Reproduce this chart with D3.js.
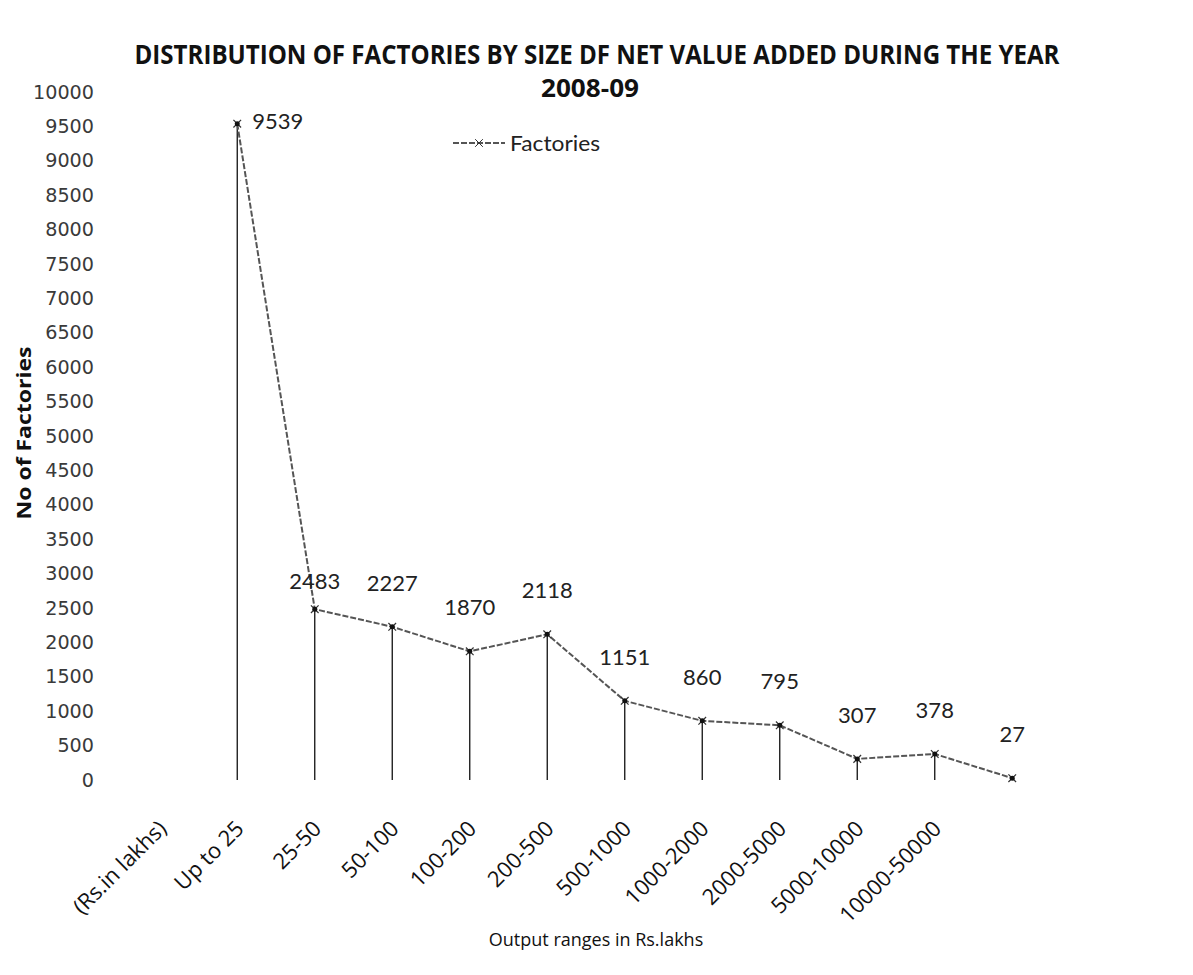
<!DOCTYPE html>
<html><head><meta charset="utf-8">
<script src="https://cdn.jsdelivr.net/npm/d3@7"></script>
<style>body{margin:0;background:#fff}svg{display:block}</style>
</head><body>
<script>
const categories = ["(Rs.in lakhs)","Up to 25","25-50","50-100","100-200","200-500","500-1000","1000-2000","2000-5000","5000-10000","10000-50000",""];
const factories = [null,9539,2483,2227,1870,2118,1151,860,795,307,378,27];
const yTicks = d3.range(0,10001,500);
const titleLines = ["DISTRIBUTION OF FACTORIES BY SIZE DF NET VALUE ADDED  DURING THE YEAR","2008-09"];
const seriesName = "Factories";
const xTitle = "Output ranges in Rs.lakhs";
const yTitle = "No of Factories";

const W=1193,H=975;
const m={left:121,right:142,top:92,bottom:195};
const svg=d3.select("body").append("svg").attr("width",W).attr("height",H);
const x=d3.scaleBand().domain(d3.range(categories.length)).range([m.left,W-m.right]);
const y=d3.scaleLinear().domain([0,10000]).range([H-m.bottom,m.top]);
const cx=i=>x(i)+x.bandwidth()/2;

// title
svg.append("text").attr("x",597).attr("y",64).attr("text-anchor","middle")
  .attr("font-family","'Liberation Sans Narrow','Open Sans',sans-serif").attr("font-weight","bold")
  .attr("font-size",26).attr("fill","#111").attr("textLength",925).attr("lengthAdjust","spacingAndGlyphs")
  .text(titleLines[0]);
svg.append("text").attr("x",590).attr("y",97).attr("text-anchor","middle")
  .attr("font-family","'Liberation Sans Narrow','Open Sans',sans-serif").attr("font-weight","bold")
  .attr("font-size",25).attr("fill","#111").attr("textLength",98).attr("lengthAdjust","spacingAndGlyphs")
  .text(titleLines[1]);

// y axis
const ya=svg.append("g").attr("transform",`translate(${m.left},0)`)
  .call(d3.axisLeft(y).tickValues(yTicks).tickSize(0).tickPadding(27).tickFormat(d3.format("d")));
ya.select(".domain").remove();
ya.selectAll("text").attr("font-family","'DejaVu Sans',sans-serif")
  .attr("font-size",19).attr("fill","#3a3a3a").attr("textLength",function(){return this.textContent.length*12.2;})
  .attr("lengthAdjust","spacingAndGlyphs");

// x axis labels
const xa=svg.append("g").attr("transform",`translate(0,${H-m.bottom})`)
  .call(d3.axisBottom(x).tickSize(0).tickFormat(i=>categories[i]));
xa.select(".domain").remove();
xa.selectAll("text").attr("font-family","'Open Sans',sans-serif").attr("font-size",22).attr("fill","#111")
  .attr("text-anchor","end").attr("dy",null).attr("y",0)
  .attr("transform","translate(8,50) rotate(-45)");

// axis titles
svg.append("text").attr("x",596).attr("y",946).attr("text-anchor","middle")
  .attr("font-family","'Open Sans',sans-serif").attr("font-size",18).attr("fill","#111").text(xTitle);
svg.append("text").attr("transform","translate(31,433) rotate(-90)").attr("text-anchor","middle")
  .attr("font-family","'Open Sans',sans-serif").attr("font-weight","bold").attr("font-size",20).attr("fill","#111")
  .attr("textLength",173).attr("lengthAdjust","spacingAndGlyphs").text(yTitle);

const pts=factories.map((v,i)=>({v,i})).filter(d=>d.v!=null);

// drop lines
svg.append("g").selectAll("line").data(pts).join("line")
  .attr("x1",d=>cx(d.i)).attr("x2",d=>cx(d.i)).attr("y1",d=>y(d.v)).attr("y2",y(0))
  .attr("stroke","#111").attr("stroke-width",1.3);

// series line
svg.append("path").datum(pts).attr("fill","none").attr("stroke","#555").attr("stroke-width",2)
  .attr("stroke-dasharray","6,2")
  .attr("d",d3.line().x(d=>cx(d.i)).y(d=>y(d.v)));

// markers
svg.append("g").selectAll("path").data(pts).join("path")
  .attr("transform",d=>`translate(${cx(d.i)},${y(d.v)})`).attr("d",d3.symbol().type(d3.symbolTimes).size(40))
  .attr("fill","none").attr("stroke","#333").attr("stroke-width",1.2);
svg.append("g").selectAll("circle").data(pts).join("circle")
  .attr("cx",d=>cx(d.i)).attr("cy",d=>y(d.v)).attr("r",2.5).attr("fill","#111");

// data labels
svg.append("g").selectAll("text").data(pts).join("text")
  .attr("x",(d,k)=>k===0?cx(d.i)+15:cx(d.i)).attr("y",(d,k)=>k===0?y(d.v)+5:(k===1?y(d.v)-20:y(d.v)-36))
  .attr("text-anchor",(d,k)=>k===0?"start":"middle")
  .attr("font-family","'Lato',sans-serif").attr("font-size",22).attr("fill","#222")
  .text(d=>d.v);

// legend
const lg=svg.append("g").attr("transform","translate(453,143)");
lg.append("line").attr("x1",0).attr("x2",52).attr("stroke","#555").attr("stroke-width",2).attr("stroke-dasharray","6,2");
lg.append("path").attr("transform","translate(26,0)").attr("d",d3.symbol().type(d3.symbolTimes).size(40)).attr("stroke","#333").attr("fill","none");
lg.append("text").attr("x",57).attr("y",8).attr("font-family","'Lato',sans-serif").attr("font-size",22).attr("fill","#222")
  .attr("textLength",90).attr("lengthAdjust","spacingAndGlyphs").text(seriesName);
</script>
</body></html>
